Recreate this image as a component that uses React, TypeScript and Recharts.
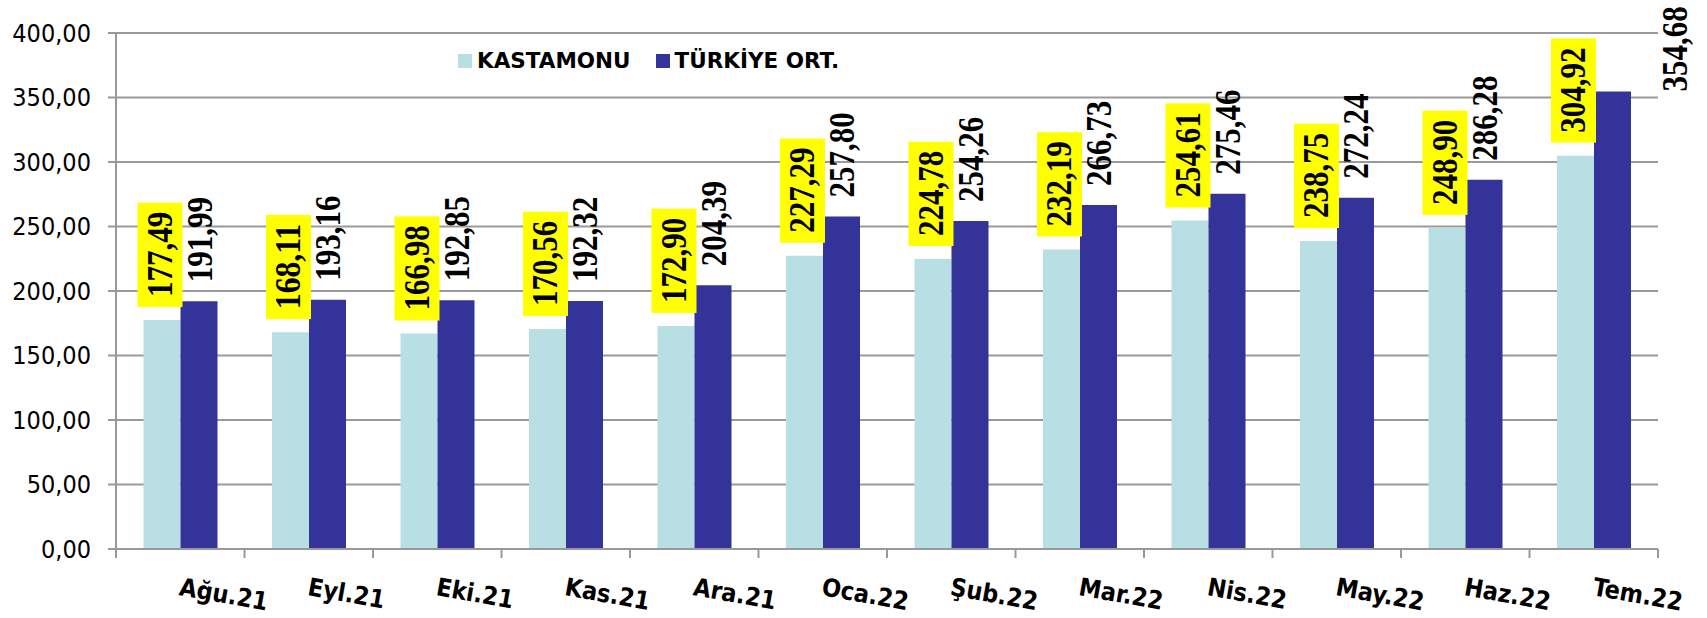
import React from "react";
import { BarChart, Bar, XAxis, YAxis, CartesianGrid, LabelList } from "recharts";

const categories = ["Ağu.21", "Eyl.21", "Eki.21", "Kas.21", "Ara.21", "Oca.22", "Şub.22", "Mar.22", "Nis.22", "May.22", "Haz.22", "Tem.22"];
const kastamonu = [177.49, 168.11, 166.98, 170.56, 172.9, 227.29, 224.78, 232.19, 254.61, 238.75, 248.9, 304.92];
const turkiye = [191.99, 193.16, 192.85, 192.32, 204.39, 257.8, 254.26, 266.73, 275.46, 272.24, 286.28, 354.68];
const yTicks = [0, 50, 100, 150, 200, 250, 300, 350, 400];
const seriesNames = { k: "KASTAMONU", t: "TÜRKİYE ORT." };

const data = categories.map((c, i) => ({ name: c, k: kastamonu[i], t: turkiye[i] }));

const W = 1707;
const H = 618;
const M = { top: 33, right: 49, left: 0, bottom: 0 };
const Y_W = 116;
const X_H = 69;
const plotW = W - M.left - M.right - Y_W;
const bandW = plotW / categories.length;

const LIGHT = "#B8DFE3";
const DARK = "#333399";
const fmt = (v: number) => v.toFixed(2).replace(".", ",");
const LBL_FS = 36;
const LEN_UNIT = 31;
const textLen = (s: string) => {
  let l = 0;
  for (const ch of s) l += ch === "," ? 0.25 : 0.5;
  return l * LEN_UNIT;
};

const RotLabel = ({ cx, start, s }: { cx: number; start: number; s: string }) => (
  <text
    x={cx}
    y={start}
    transform={`rotate(-90, ${cx}, ${start})`}
    textAnchor="start"
    dominantBaseline="central"
    fontFamily="Liberation Serif"
    fontWeight="bold"
    fontSize={LBL_FS}
    textLength={textLen(s)}
    lengthAdjust="spacingAndGlyphs"
    fill="#000"
  >
    {s}
  </text>
);

const LightLabel = (props: any) => {
  const { x, y, width, value } = props;
  const cx = x + width / 2 - 2;
  const start = y - 23;
  const s = fmt(value);
  const len = textLen(s);
  return (
    <g>
      <rect x={cx - 22.5} y={start - len - 9} width={45} height={len + 19} fill="#FFFF00" />
      <RotLabel cx={cx} start={start} s={s} />
    </g>
  );
};

const DarkLabel = (props: any) => {
  const { x, y, width, value, index } = props;
  const last = index === categories.length - 1;
  const cx = last ? x + width + 44 : x + width / 2 + 1;
  const start = last ? y : y - 19;
  return <RotLabel cx={cx} start={start} s={fmt(value)} />;
};

const XTick = (props: any) => {
  const { x, y, payload, index } = props;
  const last = index === categories.length - 1;
  const tx = x - 2;
  const ty = y + 46;
  return (
    <g>
      <line x1={x - bandW / 2} x2={x - bandW / 2} y1={y} y2={y + 9} stroke="#999" strokeWidth={2} />
      {last && <line x1={x + bandW / 2} x2={x + bandW / 2} y1={y} y2={y + 9} stroke="#999" strokeWidth={2} />}
      <text
        x={tx}
        y={ty}
        transform={`rotate(10, ${tx}, ${ty})`}
        textAnchor="start"
        fontFamily="DejaVu Sans Condensed"
        fontWeight="bold"
        fontSize={25}
        fill="#000"
      >
        {payload.value}
      </text>
    </g>
  );
};

const legendItems = [
  { name: seriesNames.k, color: LIGHT },
  { name: seriesNames.t, color: DARK },
];

export default function App() {
  return (
    <div style={{ position: "absolute", left: 0, top: 0, width: W, height: H, background: "#fff" }}>
      <BarChart width={W} height={H} data={data} margin={M} barCategoryGap="21.4%" barGap={0}>
        <CartesianGrid vertical={false} stroke="#9a9a9a" strokeWidth={2} />
        <XAxis
          dataKey="name"
          height={X_H}
          axisLine={{ stroke: "#999", strokeWidth: 2 }}
          tickLine={false}
          tickSize={0}
          tickMargin={0}
          interval={0}
          tick={<XTick />}
        />
        <YAxis
          width={Y_W}
          domain={[0, 400]}
          ticks={yTicks}
          interval={0}
          axisLine={{ stroke: "#999", strokeWidth: 2 }}
          tickLine={{ stroke: "#999", strokeWidth: 2 }}
          tickSize={8}
          tickMargin={17}
          tickFormatter={(v: number) => fmt(v)}
          tick={{ fontFamily: "DejaVu Sans Condensed", fontSize: 25, fill: "#000" }}
        />
        <Bar dataKey="k" name={seriesNames.k} fill={LIGHT} isAnimationActive={false}>
          <LabelList dataKey="k" content={<LightLabel />} />
        </Bar>
        <Bar dataKey="t" name={seriesNames.t} fill={DARK} isAnimationActive={false}>
          <LabelList dataKey="t" content={<DarkLabel />} />
        </Bar>
      </BarChart>
      <div
        style={{
          position: "absolute",
          left: 458,
          top: 48,
          display: "flex",
          alignItems: "center",
          fontFamily: "DejaVu Sans",
          fontWeight: "bold",
          fontSize: 21.5,
          color: "#000",
          lineHeight: "26px",
        }}
      >
        {legendItems.map((it, i) => (
          <div key={i} style={{ display: "flex", alignItems: "center", marginRight: i === 0 ? 25 : 0 }}>
            <div style={{ width: 14, height: 14, background: it.color, marginRight: 5 }} />
            <span>{it.name}</span>
          </div>
        ))}
      </div>
    </div>
  );
}
